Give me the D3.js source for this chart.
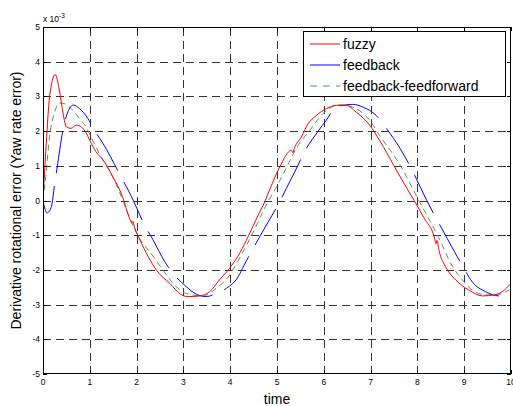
<!DOCTYPE html>
<html>
<head>
<meta charset="utf-8">
<script src="https://cdn.jsdelivr.net/npm/d3@7"></script>
<style>
  body { margin: 0; background: #fff; }
  svg { display: block; font-family: Arial, "Liberation Sans", sans-serif; }
</style>
</head>
<body>
<svg id="chart" width="513" height="406"></svg>
<script>
// values in units of 1e-3
const xTicks = [0, 1, 2, 3, 4, 5, 6, 7, 8, 9, 10];
const yTicks = [-5, -4, -3, -2, -1, 0, 1, 2, 3, 4, 5];

const fuzzyT = [0, 0.07, 0.14, 0.26, 0.35, 0.43, 0.5, 0.6, 0.71, 0.82, 0.92, 1.03, 1.13, 1.31, 1.49, 1.7, 1.86, 1.9, 1.92, 1.95, 2.06, 2.25, 2.42, 2.71, 2.96, 3.1, 3.35, 3.56, 3.77, 4.0, 4.21, 4.39, 4.57, 4.75, 4.84, 5.06, 5.31, 5.34, 5.37, 5.52, 5.66, 5.84, 6.06, 6.27, 6.48, 6.69, 6.98, 7.19, 7.5, 7.71, 7.93, 8.14, 8.36, 8.4, 8.42, 8.46, 8.6, 8.82, 9.1, 9.39, 9.64, 9.81, 10.0];
const fuzzy  = [0, 1.65, 2.98, 3.63, 3.18, 2.5, 2.12, 2.08, 2.17, 2.12, 1.95, 1.65, 1.41, 1.12, 0.69, 0.11, -0.55, -0.65, -0.6, -0.75, -1.1, -1.62, -2.0, -2.39, -2.72, -2.77, -2.75, -2.63, -2.29, -1.93, -1.5, -1.02, -0.5, 0.0, 0.3, 0.97, 1.45, 1.38, 1.5, 1.83, 2.2, 2.45, 2.65, 2.74, 2.74, 2.55, 2.17, 1.74, 1.0, 0.5, 0.0, -0.5, -1.05, -1.25, -1.15, -1.43, -1.9, -2.29, -2.58, -2.75, -2.72, -2.63, -2.39];

const feedbackT = [0, 0.085, 0.18, 0.25, 0.3, 0.44, 0.53, 0.65, 0.78, 0.96, 1.1, 1.28, 1.63, 1.93, 2.02, 2.17, 2.35, 2.6, 2.81, 3.06, 3.25, 3.49, 3.63, 3.92, 4.17, 4.29, 4.64, 5.07, 5.2, 5.45, 5.55, 5.88, 6.05, 6.27, 6.62, 6.84, 7.12, 7.34, 7.63, 7.84, 8.2, 8.64, 9.0, 9.17, 9.46, 9.74, 10.0];
const feedback  = [0, -0.36, -0.17, 0.48, 0.93, 2.12, 2.55, 2.75, 2.65, 2.36, 2.02, 1.65, 0.78, 0.0, -0.27, -0.71, -1.13, -1.76, -2.15, -2.48, -2.68, -2.77, -2.72, -2.53, -2.2, -1.88, -1.02, 0.0, 0.35, 1.02, 1.31, 2.0, 2.31, 2.69, 2.77, 2.69, 2.45, 2.07, 1.5, 1.0, 0.0, -1.1, -1.97, -2.34, -2.63, -2.75, -2.7];

const ffT = [0, 0.06, 0.14, 0.25, 0.35, 0.46, 0.6, 0.78, 0.92, 1.06, 1.24, 1.45, 1.63, 1.81, 2.02, 2.35, 2.56, 2.78, 3.06, 3.42, 3.7, 3.99, 4.16, 4.46, 4.82, 4.95, 5.23, 5.41, 5.7, 5.98, 6.34, 6.62, 6.98, 7.19, 7.64, 8.03, 8.43, 8.75, 8.96, 9.17, 9.46, 9.67, 9.96, 10.0];
const ff  = [0, 0.69, 1.84, 2.55, 2.81, 2.79, 2.65, 2.36, 2.12, 1.74, 1.26, 0.78, 0.26, -0.36, -0.99, -1.6, -2.0, -2.39, -2.68, -2.75, -2.53, -2.15, -1.76, -1.0, 0.0, 0.3, 1.02, 1.5, 2.02, 2.5, 2.76, 2.69, 2.31, 1.88, 1.0, 0.0, -1.0, -1.9, -2.29, -2.58, -2.72, -2.72, -2.58, -2.55];

const seriesNames = ["fuzzy", "feedback", "feedback-feedforward"];

const svg = d3.select("#chart");
const plotL = 43, plotR = 511, plotT = 27, plotB = 374;

const x = d3.scaleLinear().domain([0, 10]).range([plotL, plotR]);
const y = d3.scaleLinear().domain([-5, 5]).range([plotB, plotT]);

// grid
const grid = svg.append("g").attr("stroke", "#333").attr("stroke-width", 1)
    .attr("stroke-dasharray", "8,5");
grid.selectAll(".gx").data(xTicks.slice(1, -1)).enter().append("line")
    .attr("x1", d => Math.round(x(d)) + 0.5).attr("x2", d => Math.round(x(d)) + 0.5)
    .attr("y1", plotB).attr("y2", plotT);
grid.selectAll(".gy").data(yTicks.slice(1, -1)).enter().append("line")
    .attr("y1", d => Math.round(y(d)) + 0.5).attr("y2", d => Math.round(y(d)) + 0.5)
    .attr("x1", plotL).attr("x2", plotR);

// curves
svg.append("clipPath").attr("id", "clip").append("rect")
    .attr("x", plotL).attr("y", plotT).attr("width", plotR - plotL).attr("height", plotB - plotT);

const line = d3.line().x(d => x(d[0])).y(d => y(d[1])).curve(d3.curveMonotoneX);
const plot = svg.append("g").attr("clip-path", "url(#clip)").attr("fill", "none");

plot.append("path").datum(d3.zip(ffT, ff)).attr("d", line)
    .attr("stroke", "#4c966e").attr("stroke-width", 1).attr("stroke-dasharray", "6,4");
plot.append("path").datum(d3.zip(feedbackT, feedback)).attr("d", line)
    .attr("stroke", "#0000ff").attr("stroke-width", 1).attr("stroke-dasharray", "42,13");
plot.append("path").datum(d3.zip(fuzzyT, fuzzy)).attr("d", line)
    .attr("stroke", "#ff0000").attr("stroke-width", 1);

// axes box + ticks
const axG = svg.append("g").attr("stroke", "#000").attr("stroke-width", 1);
axG.append("rect").attr("x", plotL + 0.5).attr("y", plotT + 0.5)
    .attr("width", plotR - plotL - 1).attr("height", plotB - plotT - 1).attr("fill", "none");
const tl = 4;
xTicks.forEach(d => {
    const px = Math.round(x(d)) + 0.5;
    axG.append("line").attr("x1", px).attr("x2", px).attr("y1", plotB).attr("y2", plotB - tl);
    axG.append("line").attr("x1", px).attr("x2", px).attr("y1", plotT).attr("y2", plotT + tl);
});
yTicks.forEach(d => {
    const py = Math.round(y(d)) + 0.5;
    axG.append("line").attr("y1", py).attr("y2", py).attr("x1", plotL).attr("x2", plotL + tl);
    axG.append("line").attr("y1", py).attr("y2", py).attr("x1", plotR).attr("x2", plotR - tl);
});

// tick labels
svg.append("g").selectAll("text").data(xTicks).enter().append("text")
    .attr("x", d => x(d)).attr("y", plotB + 11)
    .attr("text-anchor", "middle").attr("font-size", "8.5px").text(d => d);
svg.append("g").selectAll("text").data(yTicks).enter().append("text")
    .attr("x", plotL - 3).attr("y", d => y(d) + 3)
    .attr("text-anchor", "end").attr("font-size", "8.5px").text(d => d);

// exponent
const ex = svg.append("text").attr("x", plotL).attr("y", 22).attr("font-size", "8.5px");
ex.append("tspan").text("x 10");
ex.append("tspan").attr("dy", -4).attr("font-size", "6.5px").text("-3");

// axis labels
svg.append("text").attr("x", (plotL + plotR) / 2).attr("y", 404)
    .attr("text-anchor", "middle").attr("font-size", "14px").text("time");
svg.append("text").attr("transform", `translate(21,${(plotT + plotB) / 2}) rotate(-90)`)
    .attr("text-anchor", "middle").attr("font-size", "14px")
    .text("Derivative rotational error (Yaw rate error)");

// legend
const lg = svg.append("g");
lg.append("rect").attr("x", 303.5).attr("y", 31.5).attr("width", 202).attr("height", 65)
    .attr("fill", "#fff").attr("stroke", "#000");
const lgStyles = [
    { c: "#ff0000", dash: null },
    { c: "#0000ff", dash: null },
    { c: "#4c966e", dash: "7,6" }
];
seriesNames.forEach((n, i) => {
    const yy = 44 + i * 21;
    lg.append("line").attr("x1", 310).attr("x2", 340).attr("y1", yy).attr("y2", yy)
        .attr("stroke", lgStyles[i].c).attr("stroke-dasharray", lgStyles[i].dash);
    lg.append("text").attr("x", 343).attr("y", yy + 5).attr("font-size", "14px").text(n);
});
</script>
</body>
</html>
